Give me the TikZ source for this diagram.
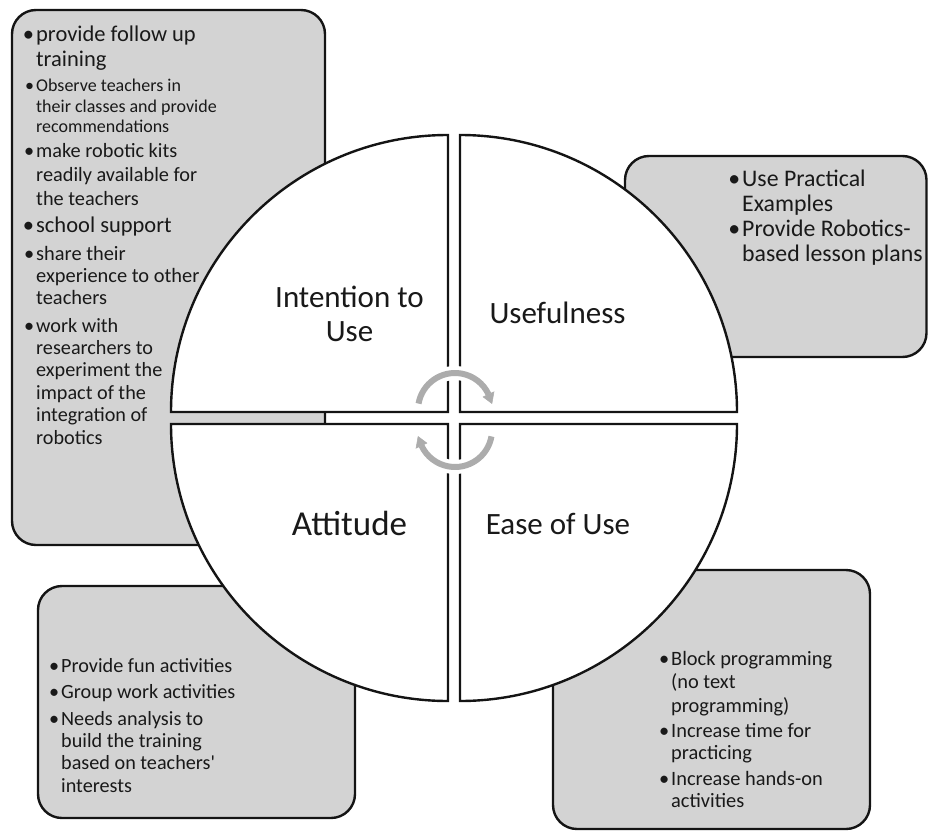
\documentclass[tikz,border=0pt]{standalone}
\usepackage{fontspec}
\setmainfont{Carlito}
\definecolor{tamcolor0000}{RGB}{211,211,211}
\definecolor{tamcolor0001}{RGB}{20,20,20}
\definecolor{tamcolor0002}{RGB}{255,255,255}
\definecolor{tamcolor0003}{RGB}{172,172,172}
\definecolor{tamcolor0004}{RGB}{25,25,25}
\newcommand{\tamdot}{\llap{\textbullet\hspace{2pt}}}

\begin{document}
\begin{tikzpicture}[yscale=-1
,tstyle0/.style={color=tamcolor0001,fill=tamcolor0000,line width=2.4pt,rounded corners=24pt}
,tstyle1/.style={color=tamcolor0001,fill=tamcolor0002,line width=2.4pt}
,tstyle2/.style={color=tamcolor0002,line width=14pt}
,tstyle3/.style={color=tamcolor0003,line width=6pt}
,tstyle4/.style={color=tamcolor0003,fill=tamcolor0003,line width=0.5pt}
,tstyle5/.style={color=tamcolor0004,inner sep=0pt,align=left,anchor=base west}
,tstyle6/.style={color=tamcolor0004,inner sep=0pt,align=center}
]
\useasboundingbox (0pt,0pt) rectangle (928pt,832pt);
% grey boxes
\draw[tstyle0] (12pt,10pt) rectangle (325pt,545pt);
\draw[tstyle0] (625pt,156pt) rectangle (926.5pt,357pt);
\draw[tstyle0] (38pt,586pt) rectangle (355pt,818pt);
\draw[tstyle0] (553pt,570pt) rectangle (870pt,829pt);
% quarters of the circle
\draw[tstyle1] (448pt,412pt) -- (171pt,412pt) arc (180:270:277pt) -- cycle;
\draw[tstyle1] (460pt,412pt) -- (460pt,135pt) arc (270:360:277pt) -- cycle;
\draw[tstyle1] (460pt,424pt) -- (737pt,424pt) arc (0:90:277pt) -- cycle;
\draw[tstyle1] (448pt,424pt) -- (448pt,701pt) arc (90:180:277pt) -- cycle;
\node (itu) at (349.5pt,314pt)[tstyle6,font=\fontsize{31pt}{34pt}\selectfont]{Intention to\\Use};
\node (use) at (557.5pt,313pt)[tstyle6,font=\fontsize{31pt}{34pt}\selectfont]{Usefulness};
\node (att) at (349.5pt,523pt)[tstyle6,font=\fontsize{35pt}{40pt}\selectfont]{Attitude};
\node (eou) at (558pt,524pt)[tstyle6,font=\fontsize{31pt}{34pt}\selectfont]{Ease of Use};
% cycle arrows
\draw[tstyle2] (439.4pt,376.5pt) arc (245:295:37pt);
\draw[tstyle2] (470.6pt,463.5pt) arc (65:115:37pt);
\draw[tstyle3] (418.56pt,403.58pt) arc (190:335:37pt);
\draw[tstyle4] (483.1pt,396.9pt) -- (494.0pt,391.8pt) -- (491.9pt,403.5pt) -- cycle;
\draw[tstyle3] (491.44pt,436.42pt) arc (10:155:37pt);
\draw[tstyle4] (426.9pt,443.1pt) -- (416.0pt,448.2pt) -- (418.1pt,436.5pt) -- cycle;
% box texts (at = baseline of the last line)
\node (fol) at (36pt,66.5pt)[tstyle5,font=\fontsize{22.5pt}{25pt}\selectfont]{\tamdot provide follow up\\training};
\node (obs) at (36pt,132.5pt)[tstyle5,font=\fontsize{18pt}{20.5pt}\selectfont]{\tamdot Observe teachers in\\their classes and provide\\recommendations};
\node (kit) at (36pt,205pt)[tstyle5,font=\fontsize{20.3pt}{24pt}\selectfont]{\tamdot make robotic kits\\readily available for\\the teachers};
\node (sch) at (36pt,232.5pt)[tstyle5,font=\fontsize{22.5pt}{25pt}\selectfont]{\tamdot school support};
\node (sha) at (36pt,304pt)[tstyle5,font=\fontsize{20.4pt}{22pt}\selectfont]{\tamdot share their\\experience to other\\teachers};
\node (wrk) at (36pt,444pt)[tstyle5,font=\fontsize{20.2pt}{22.4pt}\selectfont]{\tamdot work with\\researchers to\\experiment the\\impact of the\\integration of\\robotics};
\node (prc) at (742pt,211pt)[tstyle5,font=\fontsize{23.8pt}{25pt}\selectfont]{\tamdot Use Practical\\Examples};
\node (lpl) at (742pt,261pt)[tstyle5,font=\fontsize{23.8pt}{25pt}\selectfont]{\tamdot Provide Robotics-\\based lesson plans};
\node (fun) at (61pt,672pt)[tstyle5,font=\fontsize{20.2pt}{22.3pt}\selectfont]{\tamdot Provide fun activities};
\node (grp) at (61pt,698pt)[tstyle5,font=\fontsize{20.2pt}{22.3pt}\selectfont]{\tamdot Group work activities};
\node (nds) at (61pt,792pt)[tstyle5,font=\fontsize{20.2pt}{22.3pt}\selectfont]{\tamdot Needs analysis to\\build the training\\based on teachers\textquotesingle\\interests};
\node (blk) at (671pt,712pt)[tstyle5,font=\fontsize{20.4pt}{23.5pt}\selectfont]{\tamdot Block programming\\(no text\\programming)};
\node (tim) at (671pt,759pt)[tstyle5,font=\fontsize{20.4pt}{22pt}\selectfont]{\tamdot Increase time for\\practicing};
\node (hnd) at (671pt,807pt)[tstyle5,font=\fontsize{20.4pt}{22pt}\selectfont]{\tamdot Increase hands-on\\activities};
\end{tikzpicture}
\end{document}
